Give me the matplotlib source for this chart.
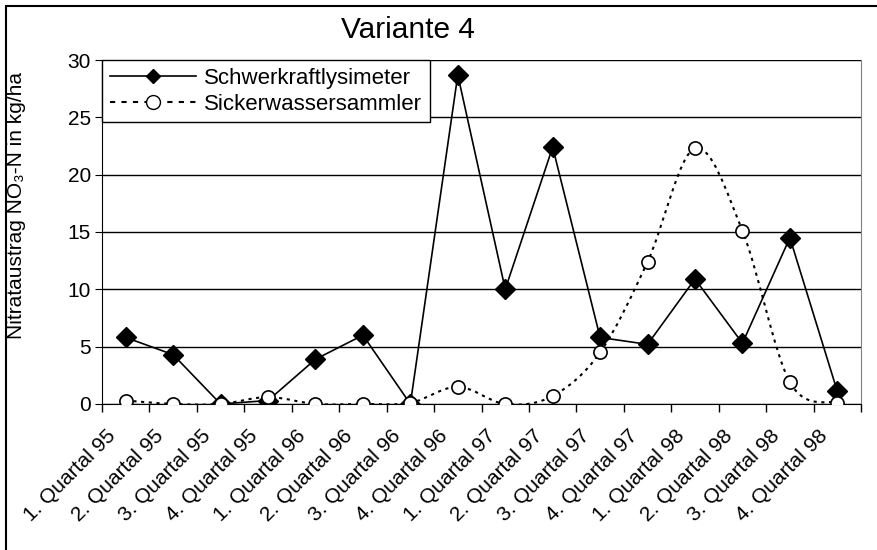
import matplotlib.pyplot as plt
from matplotlib.path import Path
from matplotlib.patches import PathPatch, Rectangle
from matplotlib.lines import Line2D
from matplotlib.transforms import ScaledTranslation
import numpy as np

plt.rcParams['font.family'] = ['Liberation Sans', 'DejaVu Sans']

quartale = ["1. Quartal 95", "2. Quartal 95", "3. Quartal 95", "4. Quartal 95",
            "1. Quartal 96", "2. Quartal 96", "3. Quartal 96", "4. Quartal 96",
            "1. Quartal 97", "2. Quartal 97", "3. Quartal 97", "4. Quartal 97",
            "1. Quartal 98", "2. Quartal 98", "3. Quartal 98", "4. Quartal 98"]
schwerkraft = [5.8, 4.3, 0.0, 0.3, 3.9, 6.0, 0.0, 28.7, 10.0, 22.4, 5.8, 5.2, 10.9, 5.3, 14.5, 1.1]
sickerwasser = [0.3, 0.0, 0.0, 0.6, 0.0, 0.0, 0.1, 1.5, 0.0, 0.7, 4.5, 12.4, 22.3, 15.1, 1.9, 0.1]

fig = plt.figure(figsize=(8.77, 5.5), dpi=100)
ax = fig.add_axes([0.1163, 0.2655, 0.8655, 0.6254])

x = np.arange(len(quartale))
dotted = (0, (1.5, 2.2))

# smoothed curve (Excel-style bezier) for the dotted series
def smooth_path(xs, ys):
    pts = np.column_stack([xs, ys]).astype(float)
    n = len(pts)
    verts = [pts[0]]
    codes = [Path.MOVETO]
    for i in range(n - 1):
        p_prev = pts[i - 1] if i > 0 else pts[i]
        p_next2 = pts[i + 2] if i + 2 < n else pts[i + 1]
        c1 = pts[i] + (pts[i + 1] - p_prev) / 6
        c2 = pts[i + 1] - (p_next2 - pts[i]) / 6
        verts += [c1, c2, pts[i + 1]]
        codes += [Path.CURVE4] * 3
    return Path(verts, codes)

curve = PathPatch(smooth_path(x, sickerwasser), facecolor='none', edgecolor='black',
                  lw=1.5, linestyle=dotted, zorder=3)
ax.add_patch(curve)
ax.plot(x, schwerkraft, color='black', lw=1.2, marker='D', ms=10.5, mfc='black',
        mec='black', zorder=4)
ax.plot(x, sickerwasser, linestyle='none', marker='o', ms=9.5, mfc='white',
        mec='black', mew=1.2, zorder=5)

ax.set_xlim(-0.5, len(quartale) - 0.5)
ax.set_ylim(0, 30)
ax.set_yticks(range(0, 31, 5))
ax.yaxis.grid(True, color='black', lw=1)
ax.set_axisbelow(True)
ax.tick_params(axis='y', labelsize=15, length=5, direction='out', pad=3)

ax.set_xticks(x)
ax.set_xticklabels(quartale, rotation=45, ha='right', va='center',
                   rotation_mode='anchor', fontsize=15)
ax.set_xticks(np.arange(-0.5, len(quartale)), minor=True)
ax.tick_params(axis='x', which='major', length=0, pad=21)
ax.tick_params(axis='x', which='minor', length=6, direction='out', width=1)
shift = ScaledTranslation(-13 / 100, 0, fig.dpi_scale_trans)
for lab in ax.get_xticklabels():
    lab.set_transform(lab.get_transform() + shift)

ax.spines['top'].set_visible(False)
ax.spines['right'].set_color('#808080')
ax.spines['left'].set_color('black')
ax.spines['bottom'].set_color('black')

ax.set_ylabel("Nitrataustrag NO\u2083-N in kg/ha", fontsize=15)
ax.yaxis.set_label_coords(26 / 877, 1 - 205 / 550, transform=fig.transFigure)
fig.text(408 / 877, 1 - 38 / 550, "Variante 4", fontsize=21.5, ha='center', va='baseline')

handles = [Line2D([], [], color='black', lw=1.2, marker='D', ms=7, mfc='black'),
           Line2D([], [], color='black', lw=1.5, linestyle=(0, (2.5, 3)), marker='o',
                  ms=10, mfc='white', mec='black')]
leg = ax.legend(handles, ["Schwerkraftlysimeter", "Sickerwassersammler"],
                loc='upper left', bbox_to_anchor=(0, 1), borderaxespad=0,
                fontsize=16, handlelength=3.9, frameon=True, fancybox=False,
                framealpha=1, edgecolor='black', borderpad=0.35, labelspacing=0.22,
                handletextpad=0.33)
leg.get_frame().set_linewidth(1)
leg.set_zorder(10)

fig.patches.append(Rectangle((6 / 877, -0.05), 1.1, 1.05 - 5.7 / 550, transform=fig.transFigure,
                             fill=False, edgecolor='black', lw=1.5))

fig.savefig("out.png", dpi=100)
